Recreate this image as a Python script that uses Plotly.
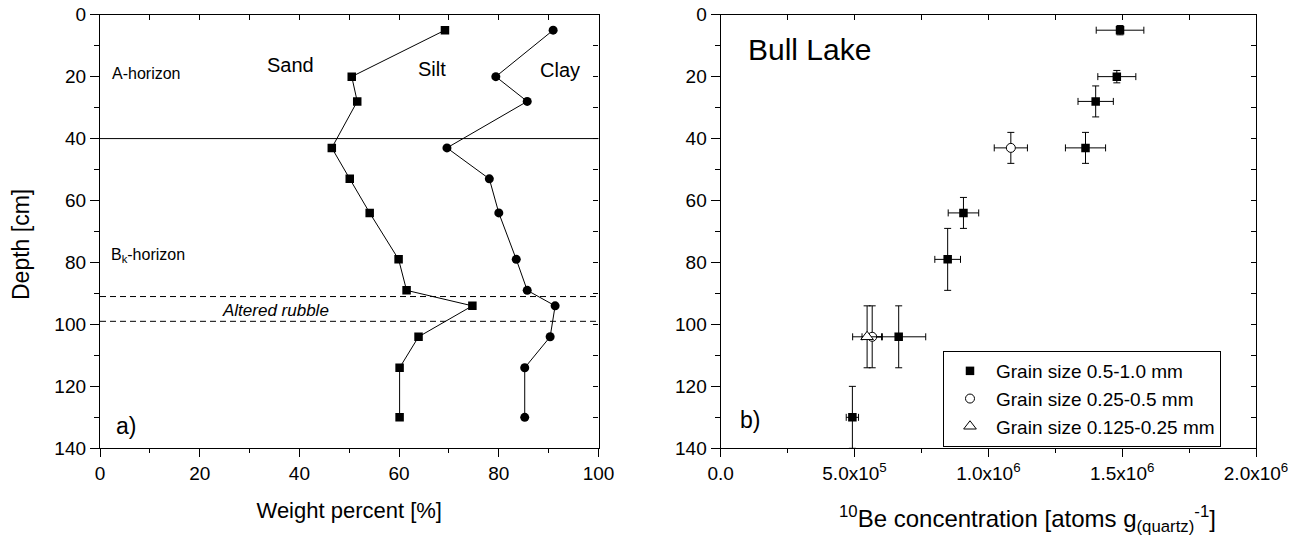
import plotly.graph_objects as go

# ---------------- data ----------------
# Panel a) cumulative grain-size boundaries vs depth
depth_a = [5, 20, 28, 43, 53, 64, 79, 89, 94, 104, 114, 130]
sand_silt = [69.2, 50.5, 51.6, 46.5, 50.1, 54.1, 59.9, 61.5, 74.7, 63.9, 60.1, 60.1]
silt_clay = [90.9, 79.4, 85.7, 69.6, 78.1, 80.0, 83.5, 85.7, 91.3, 90.3, 85.2, 85.2]

# horizon boundaries
a_horizon_base = 40
rubble_top = 91
rubble_base = 99

# Panel b) 10Be concentrations
g1_depth = [5, 20, 28, 43, 64, 79, 104, 130]
g1_conc = [1.492e6, 1.480e6, 1.401e6, 1.363e6, 9.07e5, 8.48e5, 6.65e5, 4.92e5]
g1_xerr = [8.9e4, 7.1e4, 6.6e4, 7.5e4, 5.7e4, 4.8e4, 1.01e5, 2.3e4]
g1_yerr = [1.5, 2, 5, 5, 5, 10, 10, 10]

g2_depth = [43, 104]
g2_conc = [1.084e6, 5.66e5]
g2_xerr = [6.2e4, 3.8e4]
g2_yerr = [5, 10]

g3_depth = [104]
g3_conc = [5.47e5]
g3_xerr = [5.4e4]
g3_yerr = [10]

legend_names = ["Grain size 0.5-1.0 mm", "Grain size 0.25-0.5 mm", "Grain size 0.125-0.25 mm"]

xb_tickvals = [0, 5e5, 1e6, 1.5e6, 2e6]
xb_ticktext = ["0.0", "5.0x10<sup>5</sup>", "1.0x10<sup>6</sup>", "1.5x10<sup>6</sup>", "2.0x10<sup>6</sup>"]

# ---------------- figure ----------------
FONT = "Liberation Sans, Arial, Helvetica, sans-serif"
BLACK = "black"

fig = go.Figure()

# panel a
fig.add_trace(go.Scatter(x=sand_silt, y=depth_a, mode="lines+markers",
                         line=dict(color=BLACK, width=1),
                         marker=dict(symbol="square", size=8.5, color=BLACK),
                         xaxis="x", yaxis="y", showlegend=False))
fig.add_trace(go.Scatter(x=silt_clay, y=depth_a, mode="lines+markers",
                         line=dict(color=BLACK, width=1),
                         marker=dict(symbol="circle", size=9, color=BLACK),
                         xaxis="x", yaxis="y", showlegend=False))

# panel b
def eb(arr):
    return dict(type="data", array=arr, visible=True, color=BLACK, thickness=1, width=3.5)

fig.add_trace(go.Scatter(x=g1_conc, y=g1_depth, mode="markers", name=legend_names[0],
                         marker=dict(symbol="square", size=8.5, color=BLACK),
                         error_x=eb(g1_xerr), error_y=eb(g1_yerr),
                         xaxis="x2", yaxis="y2"))
fig.add_trace(go.Scatter(x=g2_conc, y=g2_depth, mode="markers", name=legend_names[1],
                         marker=dict(symbol="circle", size=9, color="white",
                                     line=dict(width=1, color=BLACK)),
                         error_x=eb(g2_xerr), error_y=eb(g2_yerr),
                         xaxis="x2", yaxis="y2"))
fig.add_trace(go.Scatter(x=g3_conc, y=g3_depth, mode="markers", name=legend_names[2],
                         marker=dict(symbol="triangle-up", size=11, color="white",
                                     line=dict(width=1, color=BLACK)),
                         error_x=eb(g3_xerr), error_y=eb(g3_yerr),
                         xaxis="x2", yaxis="y2"))

# empty traces to activate mirror (inside-tick) axes
for xa, ya in [("x3", "y"), ("x", "y3"), ("x4", "y2"), ("x2", "y4")]:
    fig.add_trace(go.Scatter(x=[], y=[], xaxis=xa, yaxis=ya, showlegend=False, hoverinfo="skip"))

W, H = 1304, 543
xa_dom = [100 / W, 598.5 / W]
xb_dom = [720.7 / W, 1256 / W]
y_dom = [1 - 448.3 / H, 1 - 14.7 / H]

tickfont = dict(family=FONT, size=19, color=BLACK)
axline = dict(showline=True, linecolor=BLACK, linewidth=1.3, showgrid=False, zeroline=False,
              automargin=False)

fig.update_layout(
    width=W, height=H,
    margin=dict(l=0, r=0, t=0, b=0, autoexpand=False),
    paper_bgcolor="white", plot_bgcolor="white",
    font=dict(family=FONT, color=BLACK),
    xaxis=dict(domain=xa_dom, anchor="y", range=[0, 100], tickmode="linear", tick0=0, dtick=20,
               ticks="outside", ticklen=8, tickwidth=1, tickcolor=BLACK, tickfont=tickfont,
               minor=dict(ticks="outside", ticklen=4, dtick=10, tickcolor=BLACK, showgrid=False),
               title=dict(text="Weight percent [%]", font=dict(family=FONT, size=22), standoff=19),
               **axline),
    yaxis=dict(domain=y_dom, anchor="x", range=[140, 0], tickmode="linear", tick0=0, dtick=20,
               ticks="outside", ticklen=9, tickwidth=1, tickcolor=BLACK, tickfont=tickfont,
               minor=dict(ticks="outside", ticklen=5, dtick=10, tickcolor=BLACK, showgrid=False),
               **axline),
    xaxis3=dict(overlaying="x", side="top", anchor="y", range=[0, 100], tickmode="linear", tick0=0,
                dtick=10, ticks="inside", ticklen=5, tickcolor=BLACK, showticklabels=False, **axline),
    yaxis3=dict(overlaying="y", side="right", anchor="x", range=[140, 0], tickmode="linear", tick0=0,
                dtick=10, ticks="inside", ticklen=5, tickcolor=BLACK, showticklabels=False, **axline),
    xaxis2=dict(domain=xb_dom, anchor="y2", range=[0, 2e6], tickmode="array",
                tickvals=xb_tickvals, ticktext=xb_ticktext,
                ticks="outside", ticklen=8, tickwidth=1, tickcolor=BLACK, tickfont=tickfont,
                minor=dict(ticks="outside", ticklen=4, dtick=2.5e5, tick0=0, tickcolor=BLACK, showgrid=False),
                **axline),
    yaxis2=dict(domain=y_dom, anchor="x2", range=[140, 0], tickmode="linear", tick0=0, dtick=20,
                ticks="outside", ticklen=9, tickwidth=1, tickcolor=BLACK, tickfont=tickfont,
                minor=dict(ticks="outside", ticklen=5, dtick=10, tickcolor=BLACK, showgrid=False),
                **axline),
    xaxis4=dict(overlaying="x2", side="top", anchor="y2", range=[0, 2e6], tickmode="linear", tick0=0,
                dtick=2.5e5, ticks="inside", ticklen=5, tickcolor=BLACK, showticklabels=False, **axline),
    yaxis4=dict(overlaying="y2", side="right", anchor="x2", range=[140, 0], tickmode="linear", tick0=0,
                dtick=10, ticks="inside", ticklen=5, tickcolor=BLACK, showticklabels=False, **axline),
    legend=dict(x=943 / W, y=1 - 351 / H, xanchor="left", yanchor="top",
                bordercolor=BLACK, borderwidth=1, bgcolor="white",
                font=dict(family=FONT, size=19, color=BLACK),
                tracegroupgap=0, itemwidth=42),
    showlegend=True,
)

# horizon lines
fig.add_shape(type="line", xref="x domain", yref="y", x0=0, x1=1, y0=a_horizon_base, y1=a_horizon_base,
              line=dict(color=BLACK, width=1))
for yv in (rubble_top, rubble_base):
    fig.add_shape(type="line", xref="x domain", yref="y", x0=0, x1=1, y0=yv, y1=yv,
                  line=dict(color=BLACK, width=1, dash="6px,4px"))

def ann(text, x, y, size, xref="x", yref="y", xanchor="center", italic=False, angle=0):
    fig.add_annotation(text=text, x=x, y=y, xref=xref, yref=yref, showarrow=False,
                       xanchor=xanchor, yanchor="middle", textangle=angle,
                       font=dict(family=FONT, size=size, color=BLACK,
                                 style="italic" if italic else "normal"))

ann("A-horizon", 2.1, 19.1, 16, xanchor="left")
ann("Sand", 38.3, 16.2, 20)
ann("Silt", 66.5, 17.6, 20)
ann("Clay", 92.2, 17.9, 20)
ann("B<sub>k</sub>-horizon", 1.9, 77.8, 16, xanchor="left")
ann("Altered rubble", 35.3, 95.6, 17, italic=True)
ann("a)", 5.3, 132.7, 23)
ann("Bull Lake", 9.5e4, 11.1, 30, xref="x2", yref="y2", xanchor="left")
ann("b)", 6.6e4, 130.9, 23, xref="x2", yref="y2", xanchor="left")

# axis titles placed as text
ann("Depth [cm]", 21 / W, 1 - 245 / H, 23, xref="paper", yref="paper", angle=-90)
ann("<sup>10</sup>Be concentration [atoms g<sub>(quartz)</sub><sup>-1</sup>]",
    1027 / W, 1 - 519 / H, 24, xref="paper", yref="paper")

fig.write_html("out.html")
